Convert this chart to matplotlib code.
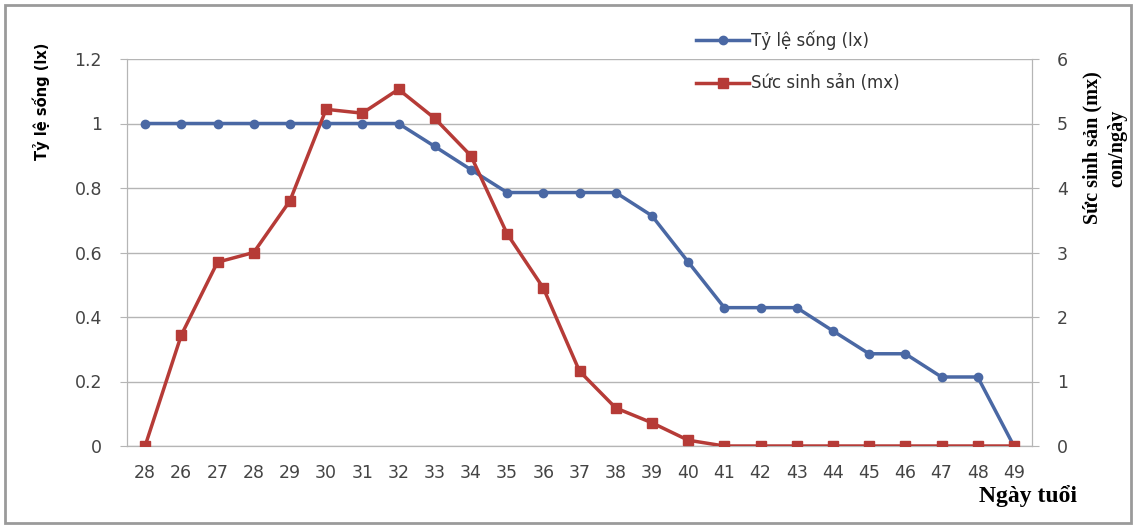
import matplotlib
matplotlib.use("Agg")
from matplotlib import pyplot as plt
from matplotlib.patches import Rectangle

# Data
ngay = ["28", "26", "27", "28", "29", "30", "31", "32", "33", "34", "35", "36", "37",
        "38", "39", "40", "41", "42", "43", "44", "45", "46", "47", "48", "49"]
lx = [1, 1, 1, 1, 1, 1, 1, 1, 0.929, 0.857, 0.786, 0.786, 0.786, 0.786,
      0.714, 0.571, 0.429, 0.429, 0.429, 0.357, 0.286, 0.286, 0.214, 0.214, 0]
mx = [0, 1.72, 2.85, 3.0, 3.8, 5.22, 5.16, 5.53, 5.08, 4.5, 3.29, 2.45, 1.16,
      0.59, 0.36, 0.09, 0, 0, 0, 0, 0, 0, 0, 0, 0]

blue = "#4a68a4"
red = "#b63b37"
grid_c = "#b5b5b5"
tick_c = "#444444"

fig = plt.figure(figsize=(11.38, 5.27), dpi=100)
ax = fig.add_axes([127 / 1138, 1 - 446 / 527, (1032 - 127) / 1138, (446 - 59) / 527])
ax2 = ax.twinx()

x = list(range(len(ngay)))
l1, = ax.plot(x, lx, color=blue, lw=2.5, marker="o", ms=6, label="Tỷ lệ sống (lx)", zorder=3)
l2, = ax2.plot(x, mx, color=red, lw=2.5, marker="s", ms=6.5, label="Sức sinh sản (mx)", zorder=3)

ax.set_xlim(-0.5, len(ngay) - 0.5)
ax.set_ylim(0, 1.2)
ax2.set_ylim(0, 6)
ax.set_yticks([0, 0.2, 0.4, 0.6, 0.8, 1, 1.2])
ax.set_yticklabels(["0", "0.2", "0.4", "0.6", "0.8", "1", "1.2"])
ax2.set_yticks([0, 1, 2, 3, 4, 5, 6])
ax.set_xticks(x)
ax.set_xticklabels(ngay)

ax.yaxis.grid(True, color=grid_c, lw=1)
ax.set_axisbelow(True)
for a in (ax, ax2):
    for s in a.spines.values():
        s.set_color(grid_c)
    a.spines["top"].set_visible(False)
    a.tick_params(colors=grid_c, labelcolor=tick_c, labelsize=12.5, length=5)
ax.tick_params(axis="x", length=0, pad=13)
ax.tick_params(axis="y", pad=13)
ax2.tick_params(axis="y", pad=13)

# axis titles
fig.text(41 / 1138, 1 - 101 / 527, "Tỷ lệ sống (lx)", rotation=90, ha="center", va="center",
         fontsize=10.5, fontweight="bold", family=["Liberation Sans Narrow", "DejaVu Sans"])
fig.text(1105 / 1138, 1 - 148 / 527, "Sức sinh sản (mx)\ncon/ngày", rotation=90, ha="center",
         va="center", fontsize=14.5, fontweight="bold", family="Liberation Serif", linespacing=1.3)
fig.text(1028 / 1138, 1 - 496 / 527, "Ngày tuổi", ha="center", va="center",
         fontsize=17, fontweight="bold", family="Liberation Serif")

fig.legend(handles=[l1, l2], loc="upper left", bbox_to_anchor=(696 / 1138, 1 - 30 / 527),
           frameon=False, fontsize=12, labelspacing=1.5, handlelength=3.2, handletextpad=0.1,
           labelcolor="#333333", borderaxespad=0, borderpad=0)

# outer frame
fig.patches.append(Rectangle((5 / 1138, 4 / 527), 1126 / 1138, 518 / 527, transform=fig.transFigure,
                             fill=False, edgecolor="#9a9a9a", lw=2))

fig.savefig("out.png", dpi=100)
